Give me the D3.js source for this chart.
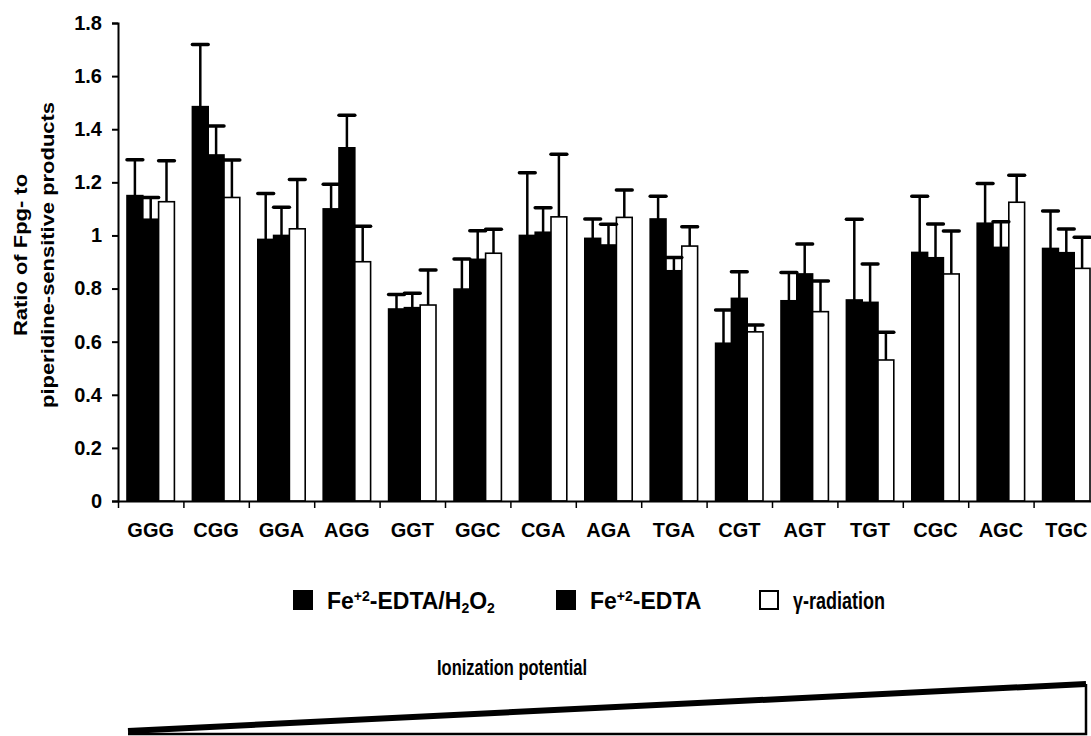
<!DOCTYPE html>
<html>
<head>
<meta charset="utf-8">
<script src="https://cdn.jsdelivr.net/npm/d3@7"></script>
<style>
  body { margin: 0; background: #fff; }
  text { font-family: "Liberation Sans", Arial, sans-serif; font-weight: bold; fill: #000; }
</style>
</head>
<body>
<svg id="chart"></svg>
<script>
// canvas
var width = 1091;
var height = 736;

// data
var categories = ["GGG", "CGG", "GGA", "AGG", "GGT", "GGC", "CGA", "AGA", "TGA", "CGT", "AGT", "TGT", "CGC", "AGC", "TGC"];
var seriesNames = ["Fe+2-EDTA/H2O2", "Fe+2-EDTA", "γ-radiation"];
var feH2O2 = [1.15, 1.485, 0.985, 1.10, 0.723, 0.798, 1.00, 0.989, 1.062, 0.594, 0.754, 0.757, 0.936, 1.046, 0.951];
var feH2O2Err = [0.135, 0.234, 0.173, 0.093, 0.055, 0.113, 0.236, 0.073, 0.086, 0.125, 0.106, 0.304, 0.212, 0.150, 0.141];
var feEdta = [1.061, 1.303, 1.00, 1.33, 0.728, 0.91, 1.012, 0.964, 0.867, 0.763, 0.855, 0.748, 0.916, 0.955, 0.935];
var feEdtaErr = [0.082, 0.109, 0.106, 0.123, 0.054, 0.108, 0.092, 0.078, 0.05, 0.10, 0.113, 0.144, 0.127, 0.097, 0.089];
var gamma = [1.127, 1.143, 1.025, 0.901, 0.738, 0.933, 1.07, 1.068, 0.96, 0.637, 0.713, 0.531, 0.855, 1.125, 0.876];
var gammaErr = [0.154, 0.141, 0.186, 0.134, 0.132, 0.09, 0.236, 0.103, 0.073, 0.026, 0.115, 0.104, 0.162, 0.102, 0.117];
var yTicks = [0, 0.2, 0.4, 0.6, 0.8, 1, 1.2, 1.4, 1.6, 1.8];

var values = [feH2O2, feEdta, gamma];
var errors = [feH2O2Err, feEdtaErr, gammaErr];
var fills = ["#000", "#000", "#fff"];

var svg = d3.select('#chart')
  .attr("width", width)
  .attr("height", height);

// scales
var y = d3.scaleLinear([0, 1.8], [501, 23]);
var x0 = d3.scaleBand(categories, [118, 1099]).padding(0);
var x1 = d3.scaleBand([0, 1, 2], [9, x0.bandwidth() - 9]).padding(0);
var xTickPos = d3.scaleLinear([0, categories.length], [118, 1099]);

// bars
var rows = [];
categories.forEach(function(c, i) {
  for (var s = 0; s < 3; s++) {
    rows.push({cat: c, s: s, v: values[s][i], e: errors[s][i]});
  }
});

var bars = svg.append("g");
bars.selectAll("rect")
  .data(rows)
  .enter()
  .append("rect")
  .attr("x", d => x0(d.cat) + x1(d.s))
  .attr("y", d => y(d.v))
  .attr("width", x1.bandwidth())
  .attr("height", d => y(0) - y(d.v))
  .attr("fill", d => fills[d.s])
  .attr("stroke", "#000")
  .attr("stroke-width", 1.6);

// error bars (upper only)
var err = svg.append("g").attr("stroke", "#000");
err.selectAll("line.stem")
  .data(rows)
  .enter()
  .append("line")
  .attr("class", "stem")
  .attr("x1", d => x0(d.cat) + x1(d.s) + x1.bandwidth() / 2)
  .attr("x2", d => x0(d.cat) + x1(d.s) + x1.bandwidth() / 2)
  .attr("y1", d => y(d.v))
  .attr("y2", d => y(d.v + d.e))
  .attr("stroke-width", 2.5);
err.selectAll("line.cap")
  .data(rows)
  .enter()
  .append("line")
  .attr("class", "cap")
  .attr("x1", d => x0(d.cat) + x1(d.s))
  .attr("x2", d => x0(d.cat) + x1(d.s) + x1.bandwidth())
  .attr("y1", d => y(d.v + d.e))
  .attr("y2", d => y(d.v + d.e))
  .attr("stroke-width", 3.5)
  .attr("stroke-linecap", "round");

// y axis
var yAxis = d3.axisLeft(y)
  .tickValues(yTicks)
  .tickFormat(d3.format("~g"))
  .tickSize(6)
  .tickPadding(10);
var gy = svg.append("g")
  .attr("transform", "translate(118,0)")
  .call(yAxis);
gy.select(".domain").attr("stroke-width", 2);
gy.selectAll(".tick line").attr("stroke-width", 2);
gy.selectAll(".tick text").style("font-size", "20px");

// x axis: boundary ticks, then labels
var gxTicks = svg.append("g")
  .attr("transform", "translate(0,501)")
  .call(d3.axisBottom(xTickPos).tickValues(d3.range(0, categories.length + 1)).tickFormat("").tickSize(7).tickSizeOuter(0));
gxTicks.select(".domain").attr("stroke-width", 2);
gxTicks.selectAll(".tick line").attr("stroke-width", 1.5);

var gx = svg.append("g")
  .attr("transform", "translate(0,501)")
  .call(d3.axisBottom(x0).tickSize(0).tickPadding(22));
gx.select(".domain").remove();
gx.selectAll(".tick text").style("font-size", "20px");

// y title (stretched along its length, like the scan)
var yTitle = svg.append("text")
  .attr("transform", "translate(27,255) rotate(-90) scale(1.22,1)")
  .attr("text-anchor", "middle")
  .style("font-size", "18px");
yTitle.append("tspan").attr("x", 0).attr("dy", 0).text("Ratio of Fpg- to");
yTitle.append("tspan").attr("x", 0).attr("dy", 27).text("piperidine-sensitive products");

// legend
var legendX = [294, 557, 760];
var legend = svg.append("g");
legendX.forEach(function(lx, s) {
  legend.append("rect")
    .attr("x", lx).attr("y", 591)
    .attr("width", 18).attr("height", 18)
    .attr("fill", fills[s])
    .attr("stroke", "#000")
    .attr("stroke-width", 2);
});

function legendText(lx, parts) {
  var t = legend.append("text")
    .attr("x", lx + 33)
    .attr("y", 609)
    .style("font-size", "23px");
  parts.forEach(function(p) {
    var ts = t.append("tspan").text(p[0]);
    if (p[1] == "sup") ts.attr("baseline-shift", "55%").style("font-size", "14px");
    if (p[1] == "sub") ts.attr("baseline-shift", "-25%").style("font-size", "14px");
  });
  return t;
}
legendText(legendX[0], [["Fe"], ["+2", "sup"], ["-EDTA/H"], ["2", "sub"], ["O"], ["2", "sub"]]);
legendText(legendX[1], [["Fe"], ["+2", "sup"], ["-EDTA"]]);
legendText(legendX[2], [["γ-radiation"]])
  .attr("textLength", 92)
  .attr("lengthAdjust", "spacingAndGlyphs");

// ionization potential wedge
svg.append("text")
  .attr("x", 437)
  .attr("y", 675)
  .attr("textLength", 150)
  .attr("lengthAdjust", "spacingAndGlyphs")
  .style("font-size", "22px")
  .text("Ionization potential");

var wedge = svg.append("g").attr("fill", "none").attr("stroke", "#000");
wedge.append("path")
  .attr("d", d3.line()([[128, 734], [1086, 734], [1086, 684]]))
  .attr("stroke-width", 2.5);
wedge.append("path")
  .attr("d", d3.line()([[128, 731], [1086, 684]]))
  .attr("stroke-width", 6);
</script>
</body>
</html>
